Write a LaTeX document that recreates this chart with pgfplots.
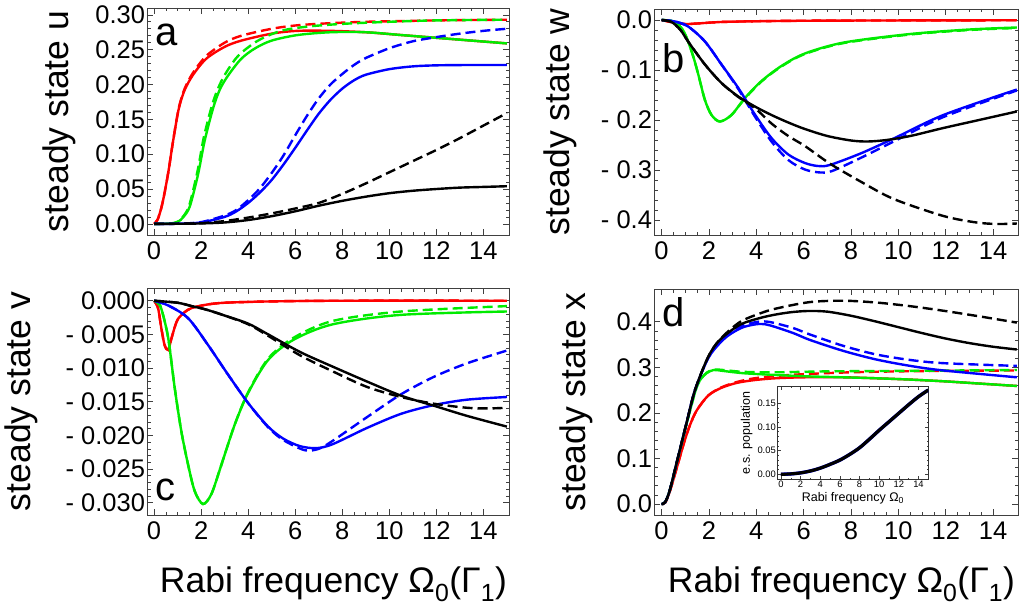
\documentclass[border=0pt]{standalone}
\usepackage{fontspec}
\setmainfont{Liberation Sans}
\usepackage{pgfplots}
\pgfplotsset{compat=1.18}

\definecolor{mred}{rgb}{1,0,0}
\definecolor{mgreen}{rgb}{0,0.92,0}
\definecolor{mblue}{rgb}{0,0,1}

\pgfplotsset{
  mma/.style={
    scale only axis,
    scaled x ticks=false, scaled y ticks=false,
    axis line style={black!75, line width=0.8pt},
    every tick/.style={black!75, line width=0.6pt},
    major tick length=6pt, minor tick length=3.5pt,
    tick align=inside,
    xtick={0,2,...,14}, xticklabels={0,2,4,6,8,10,12,14},
    minor x tick num=3, minor y tick num=4,
    tick label style={font=\fontsize{25.5}{30}\selectfont},
    xticklabel style={yshift=-3pt},
    yticklabel style={xshift=1.5pt},
    every axis y label/.style={rotate=90, anchor=south, inner sep=0pt, font=\fontsize{35.5}{40}\selectfont},
    every axis x label/.style={anchor=base, inner sep=0pt, at={(rel axis cs:0.515,-0.343)}, font=\fontsize{35.5}{40}\selectfont},
  },
  rs/.style={mred, line width=2.4pt, smooth},
  rd/.style={mred, line width=2.4pt, smooth, dash pattern=on 10pt off 5pt},
  gs/.style={mgreen, line width=2.4pt, smooth},
  gd/.style={mgreen, line width=2.4pt, smooth, dash pattern=on 10pt off 5pt},
  bs/.style={mblue, line width=2.4pt, smooth},
  bd/.style={mblue, line width=2.4pt, smooth, dash pattern=on 10pt off 5pt},
  ks/.style={black, line width=2.4pt, smooth},
  kd/.style={black, line width=2.4pt, smooth, dash pattern=on 10pt off 5pt},
}
\newcommand{\plabel}[1]{\fontsize{40}{40}\selectfont #1}

\begin{document}
\begin{tikzpicture}
\path[use as bounding box] (0pt,0pt) rectangle (1019pt,-607pt);

% ---- panel a: u
\begin{axis}[mma, at={(147pt,-8pt)}, anchor=north west, width=362pt, height=227pt,
  xmin=-0.3, xmax=15.09, ymin=-0.016, ymax=0.3098,
  ytick={0,0.05,0.1,0.15,0.2,0.25,0.3},
  yticklabels={0.00,0.05,0.10,0.15,0.20,0.25,0.30},
  ylabel={steady state u},
  ylabel style={at={(rel axis cs:-0.1948,0.5)}}]
\addplot[rs] coordinates {(0,0)(0.15,0.006)(0.31,0.023)(0.45,0.045)(0.62,0.077)(0.81,0.119)(1.05,0.165)(1.3,0.192)(1.66,0.214)(2.22,0.237)(3,0.254)(3.71,0.263)(5,0.273)(6.1,0.277)(7.5,0.277)(9,0.275)(10.5,0.271)(12,0.267)(13.5,0.263)(15,0.259)};
\addplot[rd] coordinates {(0,0)(0.15,0.006)(0.31,0.023)(0.45,0.045)(0.62,0.077)(0.81,0.119)(1.05,0.166)(1.3,0.194)(1.66,0.217)(2.22,0.241)(3,0.26)(3.71,0.27)(5,0.28)(6.1,0.285)(7.5,0.288)(9,0.29)(10.5,0.291)(12,0.292)(15,0.293)};
\addplot[gs] coordinates {(0,0)(0.7,0.0005)(1.02,0.003)(1.25,0.01)(1.52,0.025)(1.87,0.071)(2.15,0.119)(2.51,0.166)(2.8,0.193)(3.15,0.213)(3.71,0.237)(4.3,0.252)(5,0.263)(6.1,0.271)(7.5,0.275)(9,0.275)(10.5,0.271)(12,0.267)(13.5,0.263)(15,0.259)};
\addplot[gd] coordinates {(0,0)(0.7,0.0005)(1.0,0.003)(1.25,0.011)(1.5,0.027)(1.85,0.076)(2.12,0.125)(2.48,0.172)(2.78,0.199)(3.1,0.219)(3.6,0.242)(4.42,0.263)(5.4,0.277)(6.5,0.283)(8,0.287)(10,0.29)(12,0.292)(15,0.293)};
\addplot[bs] coordinates {(0,0)(1,0.0002)(2,0.002)(3,0.01)(3.5,0.018)(4,0.03)(4.5,0.045)(5,0.063)(5.5,0.085)(6,0.109)(6.5,0.134)(7,0.158)(7.5,0.178)(8,0.194)(8.5,0.206)(9,0.214)(10,0.222)(11,0.226)(12,0.2275)(13.5,0.228)(15,0.228)};
\addplot[bd] coordinates {(0,0)(1,0.0002)(2,0.0025)(3,0.012)(3.5,0.02)(4,0.034)(4.5,0.051)(5,0.073)(5.5,0.098)(6,0.127)(6.5,0.155)(7,0.18)(7.5,0.2)(8,0.215)(8.5,0.228)(9,0.238)(10,0.252)(11,0.262)(12,0.268)(13,0.273)(14,0.277)(15,0.28)};
\addplot[ks] coordinates {(0,0)(1,0.0001)(2,0.0006)(3,0.002)(4,0.0055)(5,0.011)(6,0.018)(7,0.026)(8,0.033)(9,0.039)(10,0.044)(11,0.0475)(12,0.05)(13,0.052)(14,0.053)(15,0.054)};
\addplot[kd] coordinates {(0,0)(1,0.0002)(2,0.001)(3,0.004)(4,0.009)(5,0.015)(6,0.022)(7,0.03)(8,0.043)(9,0.058)(10,0.074)(11,0.09)(12,0.106)(13,0.123)(14,0.141)(15,0.159)};
\node[anchor=base west, inner sep=0pt] at (rel axis cs:0.022,0.833) {\plabel{a}};
\end{axis}

% ---- panel b: w
\begin{axis}[mma, at={(654pt,-9pt)}, anchor=north west, width=364pt, height=226pt,
  xmin=-0.32, xmax=15.05, ymin=-0.43, ymax=0.022,
  ytick={-0.4,-0.3,-0.2,-0.1,0},
  yticklabels={- 0.4,- 0.3,- 0.2,- 0.1,0.0},
  ylabel={steady state w},
  ylabel style={at={(rel axis cs:-0.2115,0.5)}}]
\addplot[rs] coordinates {(0,0)(0.5,-0.005)(1,-0.008)(1.5,-0.007)(2.5,-0.004)(4,-0.0025)(6,-0.0015)(9,-0.001)(15,-0.0005)};
\addplot[rd] coordinates {(0,0)(0.5,-0.005)(1,-0.008)(1.5,-0.007)(2.5,-0.004)(4,-0.0025)(6,-0.0015)(9,-0.001)(15,-0.0005)};
\addplot[gs] coordinates {(0,0)(0.3,-0.001)(0.56,-0.004)(0.9,-0.02)(1.12,-0.043)(1.35,-0.075)(1.55,-0.109)(1.83,-0.16)(2.11,-0.19)(2.46,-0.203)(2.95,-0.19)(3.52,-0.156)(4.22,-0.122)(5.06,-0.092)(6.05,-0.067)(7.7,-0.045)(10.5,-0.028)(13,-0.019)(15,-0.015)};
\addplot[gd] coordinates {(0,0)(0.3,-0.001)(0.56,-0.004)(0.9,-0.02)(1.12,-0.043)(1.35,-0.075)(1.55,-0.109)(1.83,-0.16)(2.11,-0.19)(2.46,-0.203)(2.95,-0.19)(3.52,-0.157)(4.22,-0.123)(5.06,-0.093)(6.05,-0.068)(7.7,-0.046)(10.5,-0.029)(13,-0.02)(15,-0.016)};
\addplot[bs] coordinates {(0,0)(0.56,-0.003)(1.12,-0.013)(1.83,-0.043)(2.53,-0.089)(3.24,-0.136)(3.94,-0.189)(4.64,-0.236)(5.35,-0.269)(6.05,-0.286)(6.6,-0.292)(7.1,-0.29)(8.4,-0.267)(9.8,-0.237)(11.9,-0.19)(15,-0.139)};
\addplot[bd] coordinates {(0,0)(0.56,-0.003)(1.12,-0.013)(1.83,-0.043)(2.53,-0.089)(3.24,-0.138)(3.94,-0.193)(4.64,-0.243)(5.35,-0.28)(6.05,-0.299)(6.7,-0.305)(7.2,-0.302)(8.4,-0.276)(9.8,-0.243)(11.9,-0.194)(15,-0.141)};
\addplot[ks] coordinates {(0,0)(0.42,-0.004)(0.8,-0.02)(1.12,-0.043)(1.83,-0.089)(2.53,-0.126)(3.24,-0.153)(3.94,-0.173)(4.64,-0.19)(5.35,-0.205)(6.05,-0.218)(7,-0.232)(8,-0.241)(8.7,-0.243)(9.5,-0.24)(10.5,-0.232)(11.9,-0.216)(13.5,-0.199)(15,-0.183)};
\addplot[kd] coordinates {(0,0)(0.42,-0.004)(0.8,-0.02)(1.12,-0.043)(1.83,-0.089)(2.53,-0.126)(3.24,-0.154)(3.94,-0.176)(4.64,-0.207)(5.35,-0.232)(6.05,-0.252)(7.1,-0.287)(8.4,-0.323)(9.8,-0.358)(11.9,-0.392)(13.3,-0.405)(14.2,-0.408)(15,-0.407)};
\node[anchor=base west, inner sep=0pt] at (rel axis cs:0.022,0.721) {\plabel{b}};
\end{axis}

% ---- panel c: v
\begin{axis}[mma, at={(147pt,-288pt)}, anchor=north west, width=362pt, height=227pt,
  xmin=-0.3, xmax=15.09, ymin=-0.03183, ymax=0.00189,
  ytick={-0.03,-0.025,-0.02,-0.015,-0.01,-0.005,0},
  yticklabels={- 0.030,- 0.025,- 0.020,- 0.015,- 0.010,- 0.005,0.000},
  ylabel={steady state v},
  ylabel style={at={(rel axis cs:-0.301,0.5)}},
  xlabel={Rabi frequency Ω\textsubscript{0}(Γ\textsubscript{1})}]
\addplot[rs] coordinates {(0,0)(0.17,-0.0011)(0.31,-0.0041)(0.45,-0.0066)(0.6,-0.0073)(0.74,-0.0056)(0.9,-0.0037)(1.02,-0.0027)(1.3,-0.0017)(1.59,-0.0011)(2.2,-0.0006)(3,-0.0003)(5,-0.0001)(8,0)(15,0)};
\addplot[rd] coordinates {(0,0)(0.17,-0.0011)(0.31,-0.0041)(0.45,-0.0066)(0.6,-0.0073)(0.74,-0.0056)(0.9,-0.0037)(1.02,-0.0027)(1.3,-0.0017)(1.59,-0.0011)(2.2,-0.0006)(3,-0.0003)(5,-0.0001)(8,0)(15,0)};
\addplot[gs] coordinates {(0,0)(0.15,-0.0003)(0.31,-0.0012)(0.6,-0.0055)(0.88,-0.013)(1.16,-0.0194)(1.45,-0.0244)(1.73,-0.0283)(2.08,-0.0302)(2.44,-0.0287)(2.86,-0.0244)(3.43,-0.0184)(4.0,-0.0137)(4.85,-0.0088)(5.93,-0.0058)(7.6,-0.0035)(10.5,-0.0021)(15,-0.0016)};
\addplot[gd] coordinates {(0,0)(0.15,-0.0003)(0.31,-0.0012)(0.6,-0.0055)(0.88,-0.013)(1.16,-0.0194)(1.45,-0.0244)(1.73,-0.0283)(2.08,-0.0302)(2.44,-0.0287)(2.86,-0.0244)(3.43,-0.0184)(4.0,-0.0136)(4.85,-0.0086)(5.93,-0.0055)(7.6,-0.003)(10.5,-0.0016)(15,-0.0008)};
\addplot[bs] coordinates {(0,0)(0.6,-0.0007)(1.45,-0.0026)(2.3,-0.0066)(3.15,-0.011)(4.0,-0.0152)(4.85,-0.0187)(5.5,-0.0205)(6.2,-0.0216)(6.9,-0.0219)(7.6,-0.0213)(9.05,-0.0189)(10.5,-0.0168)(11.9,-0.0155)(13.3,-0.0147)(15,-0.0143)};
\addplot[bd] coordinates {(0,0)(0.6,-0.0007)(1.45,-0.0026)(2.3,-0.0066)(3.15,-0.011)(4.0,-0.0152)(4.85,-0.0188)(5.5,-0.0207)(6.4,-0.0222)(7,-0.022)(7.6,-0.0208)(9.05,-0.0173)(10.5,-0.0139)(11.9,-0.0113)(13.3,-0.0093)(15,-0.0074)};
\addplot[ks] coordinates {(0,0)(1,-0.0003)(1.6,-0.0008)(2.2,-0.0013)(3,-0.0022)(4,-0.0034)(4.8,-0.0049)(6.2,-0.0076)(7.6,-0.0098)(9.05,-0.012)(10.5,-0.0141)(11.9,-0.0156)(13.3,-0.0171)(15,-0.0187)};
\addplot[kd] coordinates {(0,0)(1,-0.0003)(1.6,-0.0008)(2.2,-0.0013)(3,-0.0022)(4,-0.0035)(4.8,-0.0051)(6.2,-0.0081)(7.6,-0.0105)(9.05,-0.0128)(10.5,-0.0143)(11.9,-0.0153)(13.3,-0.0159)(14.2,-0.016)(15,-0.0159)};
\node[anchor=base west, inner sep=0pt] at (rel axis cs:0.022,0.066) {\plabel{c}};
\end{axis}

% ---- panel d: x
\begin{axis}[mma, at={(654pt,-289pt)}, anchor=north west, width=364pt, height=226pt,
  xmin=-0.32, xmax=15.05, ymin=-0.0241, ymax=0.4717,
  ytick={0,0.1,0.2,0.3,0.4},
  yticklabels={0.0,0.1,0.2,0.3,0.4},
  ylabel={steady state x},
  ylabel style={at={(rel axis cs:-0.1676,0.5)}},
  xlabel={Rabi frequency Ω\textsubscript{0}(Γ\textsubscript{1})}]
\addplot[rs] coordinates {(0,0)(0.15,0.003)(0.35,0.028)(0.7,0.09)(0.95,0.135)(1.19,0.172)(1.48,0.205)(1.97,0.238)(2.53,0.255)(3.2,0.266)(3.94,0.272)(4.85,0.276)(6.05,0.278)(7.67,0.278)(9,0.276)(10.5,0.273)(12,0.269)(13.5,0.264)(15,0.259)};
\addplot[rd] coordinates {(0,0)(0.15,0.003)(0.35,0.028)(0.7,0.09)(0.95,0.135)(1.19,0.172)(1.48,0.205)(1.97,0.238)(2.53,0.256)(3.2,0.268)(3.94,0.276)(4.85,0.281)(6.05,0.285)(8,0.289)(10,0.291)(12,0.292)(15,0.293)};
\addplot[gs] coordinates {(0,0)(0.15,0.004)(0.35,0.031)(0.7,0.103)(1.05,0.175)(1.41,0.245)(1.6,0.27)(1.9,0.287)(2.2,0.294)(2.6,0.292)(3.45,0.287)(4.85,0.283)(6.2,0.28)(7.67,0.278)(9,0.276)(10.5,0.273)(12,0.269)(13.5,0.264)(15,0.259)};
\addplot[gd] coordinates {(0,0)(0.15,0.004)(0.35,0.031)(0.7,0.103)(1.05,0.175)(1.41,0.245)(1.6,0.27)(1.9,0.288)(2.2,0.295)(2.6,0.294)(3.45,0.29)(4.85,0.289)(7,0.291)(10,0.292)(15,0.294)};
\addplot[bs] coordinates {(0,0)(0.15,0.004)(0.35,0.031)(0.7,0.104)(1.05,0.177)(1.41,0.25)(1.97,0.32)(2.46,0.353)(2.88,0.372)(3.45,0.388)(4.1,0.395)(4.57,0.392)(5.56,0.375)(6.26,0.36)(7.67,0.336)(9.07,0.317)(10.5,0.303)(11.9,0.293)(15,0.278)};
\addplot[bd] coordinates {(0,0)(0.15,0.004)(0.35,0.031)(0.7,0.104)(1.05,0.177)(1.41,0.25)(1.97,0.321)(2.46,0.355)(2.88,0.375)(3.45,0.392)(4.1,0.4)(4.6,0.399)(5.56,0.386)(6.26,0.372)(7.67,0.347)(9.07,0.328)(10.5,0.316)(11.9,0.309)(15,0.303)};
\addplot[ks] coordinates {(0,0)(0.15,0.004)(0.35,0.031)(0.7,0.104)(1.05,0.177)(1.41,0.25)(1.97,0.323)(2.46,0.36)(3.3,0.393)(4.15,0.408)(4.85,0.416)(5.5,0.421)(6.2,0.4235)(7,0.422)(8,0.413)(9,0.401)(10,0.388)(11,0.375)(12,0.363)(13,0.353)(14,0.345)(15,0.339)};
\addplot[kd] coordinates {(0,0)(0.15,0.004)(0.35,0.031)(0.7,0.104)(1.05,0.177)(1.41,0.25)(1.97,0.323)(2.46,0.361)(3.3,0.399)(4.15,0.418)(4.85,0.429)(6.26,0.443)(7.67,0.446)(9.07,0.442)(10.5,0.434)(11.9,0.424)(13.5,0.411)(15,0.398)};
\node[anchor=base west, inner sep=0pt] at (rel axis cs:0.022,0.832) {\plabel{d}};
\end{axis}

% ---- inset
\begin{axis}[scale only axis, at={(777.5pt,-386.7pt)}, anchor=north west,
  width=150.8pt, height=92.6pt, axis background/.style={fill=white},
  scaled x ticks=false, scaled y ticks=false,
  xmin=-0.35, xmax=15, ymin=-0.0106, ymax=0.185,
  axis line style={black!80, line width=0.9pt},
  every tick/.style={black!75, line width=0.4pt},
  major tick length=3pt, minor tick length=1.5pt, tick align=inside,
  xtick={0,2,...,14}, xticklabels={0,2,4,6,8,10,12,14},
  ytick={0,0.05,0.1,0.15}, yticklabels={0.00,0.05,0.10,0.15},
  minor x tick num=1, minor y tick num=4,
  tick label style={font=\fontsize{9.4}{11}\selectfont, inner sep=1.5pt},
  xlabel={Rabi frequency Ω\textsubscript{0}},
  ylabel={e.s. population},
  xlabel style={at={(rel axis cs:0.5,-0.135)}, anchor=north, inner sep=0pt, font=\fontsize{12.5}{14}\selectfont},
  ylabel style={at={(rel axis cs:-0.165,0.5)}, anchor=south, inner sep=0pt, font=\fontsize{12.5}{14}\selectfont}]
\addplot[mblue, line width=3.4pt, smooth] coordinates {(0,0)(1,0.0008)(2,0.003)(3,0.007)(4,0.013)(5,0.021)(6,0.03)(7,0.042)(8,0.056)(9,0.074)(10,0.093)(11,0.111)(12,0.129)(13,0.147)(14,0.164)(15,0.178)};
\addplot[black, line width=3.2pt, smooth] coordinates {(0,0)(1,0.0008)(2,0.003)(3,0.007)(4,0.013)(5,0.021)(6,0.03)(7,0.042)(8,0.056)(9,0.074)(10,0.093)(11,0.111)(12,0.129)(13,0.147)(14,0.164)(15,0.178)};
\end{axis}
\end{tikzpicture}
\end{document}
